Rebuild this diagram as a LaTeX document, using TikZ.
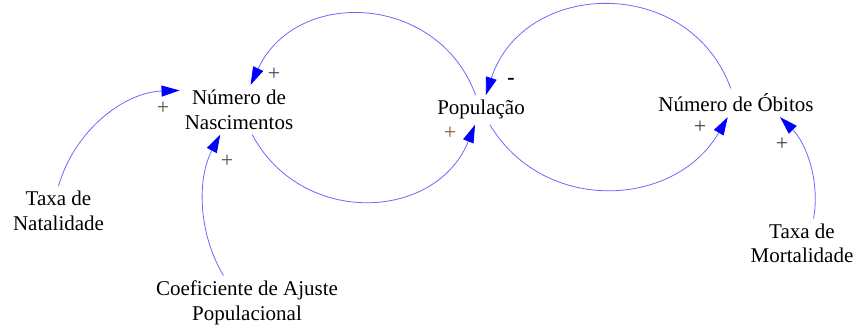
\documentclass[tikz,border=0pt]{standalone}
\usepackage{fontspec}
\setmainfont{Liberation Serif}
\usetikzlibrary{arrows.meta}
\definecolor{linkblue}{RGB}{105,105,255}
\definecolor{tipblue}{RGB}{0,0,255}
\definecolor{signslate}{RGB}{52,70,90}
\definecolor{signbrown}{RGB}{95,75,55}
\definecolor{signorange}{RGB}{130,90,45}
\definecolor{signgray}{RGB}{60,60,60}
\begin{document}
\begin{tikzpicture}[x=1pt,y=1pt,
  var/.style={font=\fontsize{21}{24.5}\selectfont, align=center, inner sep=5pt, text=black},
  link/.style={draw=linkblue, line width=0.8pt, -{Triangle[length=18pt,width=11pt,color=tipblue]}},
  sign/.style={font=\fontsize{22}{22}\selectfont, inner sep=0pt, text=#1},
]
\useasboundingbox (0,0) rectangle (856,327);

% variables
\node[var] (nasc) at (239,217.25) {Número de\\Nascimentos};
\node[var, anchor=base] (pop) at (481,212) {População};
\node[var, anchor=base] (obit) at (736,215.3) {Número de Óbitos};
\node[var] (natal) at (58.5,116.15) {Taxa de\\Natalidade};
\node[var] (coef) at (247,24.4) {Coeficiente de Ajuste\\Populacional};
\node[var] (mort) at (802,83.6) {Taxa de\\Mortalidade};

% links
\draw[link] (nasc) to[out=-62,in=-112,looseness=1.2] (pop);
\draw[link] (pop) to[out=110,in=65,looseness=1.23] (nasc);
\draw[link] (obit) to[out=110,in=72,looseness=1.27] (pop);
\draw[link] (pop) to[out=-59,in=-120,looseness=1.13] (obit);
\draw[link] (natal.north) to[out=74,in=182,looseness=0.94] (nasc.162);
\draw[link] (coef.131) to[out=121,in=242,looseness=0.9] (nasc.233);
\draw[link] (mort.65) to[out=80,in=-45,looseness=0.9] (obit.-18);

% polarities
\node[sign=signslate] (s1) at (274,253) {+};
\node[sign=signbrown] (s2) at (163,219) {+};
\node[sign=signbrown] (s3) at (227,166) {+};
\node[sign=signorange] (s4) at (450,194) {+};
\node[sign=black, font=\fontsize{22}{22}\selectfont\bfseries] (s5) at (511,246) {-};
\node[sign=signgray] (s6) at (700,200) {+};
\node[sign=signgray] (s7) at (782,183) {+};
\end{tikzpicture}
\end{document}
